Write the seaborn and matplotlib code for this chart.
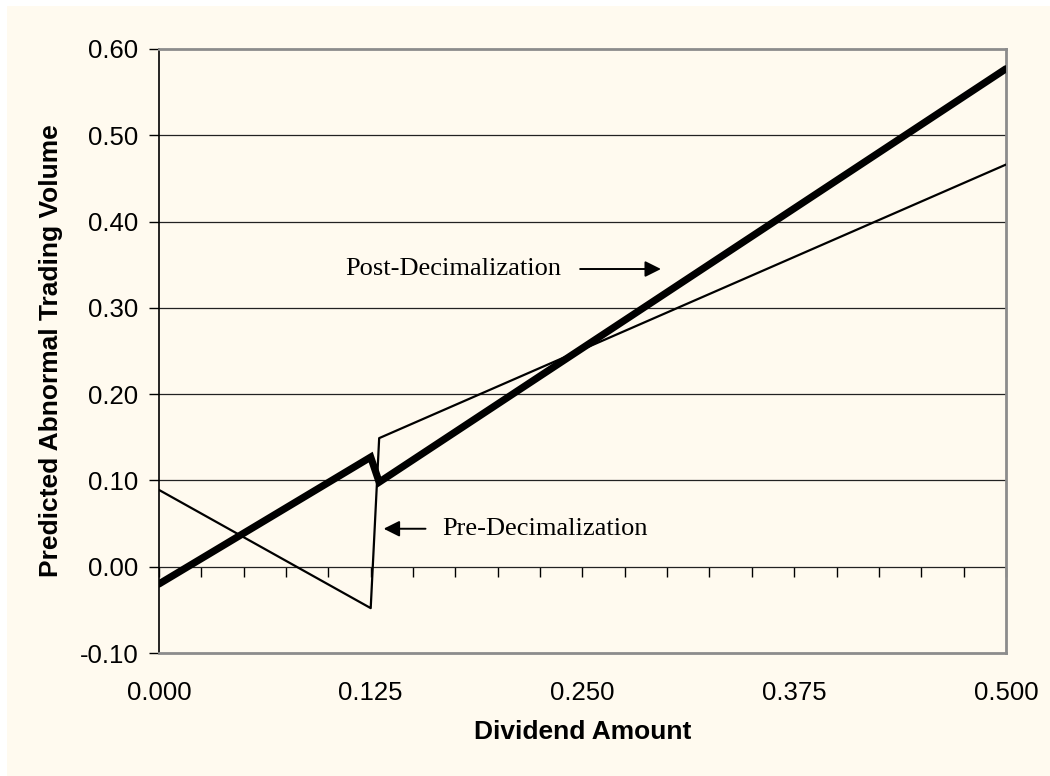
import numpy as np
import pandas as pd
import matplotlib
matplotlib.use("Agg")
import matplotlib.pyplot as plt
import seaborn as sns
from matplotlib.patches import Rectangle

# ---------- Data (vertices) ----------
post_x = [0.000, 0.125, 0.130, 0.500]
post_y = [-0.020, 0.127, 0.098, 0.577]

pre_x = [0.000, 0.125, 0.130, 0.500]
pre_y = [0.089, -0.048, 0.149, 0.466]

x_ticks = [0.000, 0.125, 0.250, 0.375, 0.500]
x_tick_labels = ["0.000", "0.125", "0.250", "0.375", "0.500"]
y_ticks = [-0.10, 0.00, 0.10, 0.20, 0.30, 0.40, 0.50, 0.60]
y_tick_labels = ["-0.10", "0.00", "0.10", "0.20", "0.30", "0.40", "0.50", "0.60"]

post_df = pd.DataFrame({"Dividend Amount": post_x, "Volume": post_y})
pre_df = pd.DataFrame({"Dividend Amount": pre_x, "Volume": pre_y})

# ---------- Style ----------
sns.set_style("white")
plt.rcParams["font.family"] = ["Liberation Sans", "DejaVu Sans"]
plt.rcParams["text.color"] = "black"
plt.rcParams["axes.labelcolor"] = "black"
plt.rcParams["xtick.color"] = "black"
plt.rcParams["ytick.color"] = "black"

bg = "#FFFAEF"
fig = plt.figure(figsize=(10.5, 7.76), dpi=100, facecolor="white")
fig.patches.append(Rectangle((7 / 1050, 0), 1, 1 - 6 / 776, transform=fig.transFigure,
                             facecolor=bg, edgecolor="none", zorder=-10))
ax = fig.add_axes([0.1514, 0.1585, 0.8066, 0.7784])
ax.set_facecolor(bg)

# horizontal grid
for yv in y_ticks[1:-1]:
    ax.axhline(yv, color="#222222", lw=0.9, zorder=1)

sns.lineplot(data=pre_df, x="Dividend Amount", y="Volume", sort=False,
             color="black", linewidth=1.6, ax=ax, zorder=3)
sns.lineplot(data=post_df, x="Dividend Amount", y="Volume", sort=False,
             color="black", linewidth=5.2, ax=ax, zorder=4,
             solid_joinstyle="miter")

ax.set_xlim(0, 0.5)
ax.set_ylim(-0.10, 0.60)

ax.set_yticks(y_ticks)
ax.set_yticklabels(y_tick_labels, fontsize=18.5)
ax.set_xticks(x_ticks)
ax.set_xticklabels(x_tick_labels, fontsize=18.5)
ax.tick_params(axis="y", direction="out", length=7, width=1, color="black", pad=8, left=True)
ax.tick_params(axis="x", length=0, pad=20)

# minor ticks on the zero line
sec = ax.secondary_xaxis(1 / 7)
sec.set_xticks(np.arange(0, 0.5001, 0.025))
sec.tick_params(axis="x", direction="out", length=7, width=1, color="black", labelbottom=False)
sec.spines["bottom"].set_visible(False)

for side in ["top", "right", "bottom"]:
    ax.spines[side].set_color("#8C8C8C")
    ax.spines[side].set_linewidth(2)
ax.spines["left"].set_color("black")
ax.spines["left"].set_linewidth(1.2)

ax.set_xlabel("Dividend Amount", fontsize=19, fontweight="bold", labelpad=11)
ax.set_ylabel("Predicted Abnormal Trading Volume", fontsize=19, fontweight="bold", labelpad=12)

# annotations
serif = ["Liberation Serif", "DejaVu Serif"]
ax.text(0.110, 0.345, "Post-Decimalization", family=serif, fontsize=19, va="center", ha="left")
ax.annotate("", xy=(0.298, 0.345), xytext=(0.247, 0.345),
            arrowprops=dict(arrowstyle="-|>", color="black", lw=1.4, mutation_scale=24))
ax.text(0.167, 0.044, "Pre-Decimalization", family=serif, fontsize=19, va="center", ha="left")
ax.annotate("", xy=(0.131, 0.044), xytext=(0.159, 0.044),
            arrowprops=dict(arrowstyle="-|>", color="black", lw=1.4, mutation_scale=24))

plt.savefig("out.png", dpi=100, facecolor=fig.get_facecolor())
